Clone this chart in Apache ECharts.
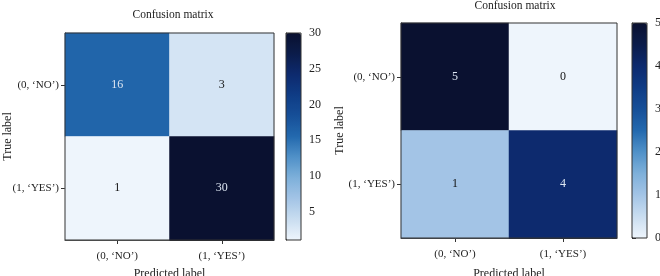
<!DOCTYPE html>
<html><head><meta charset="utf-8">
<script src="https://cdn.jsdelivr.net/npm/echarts@6/dist/echarts.min.js"></script>
<style>html,body{margin:0;padding:0;background:#fff}#c{width:660px;height:276px}</style>
</head><body><div id="c"></div>
<script>
const categories = ["(0, \u2018NO\u2019)", "(1, \u2018YES\u2019)"];
const matrixA = [[16, 3], [1, 30]];
const matrixB = [[5, 0], [1, 4]];
const rangeA = [1, 30];
const rangeB = [0, 5];
const ticksA = [5, 10, 15, 20, 25, 30];
const ticksB = [0, 1, 2, 3, 4, 5];
const titleText = "Confusion matrix";
const xName = "Predicted label";
const yName = "True label";

const palette = ['#eef5fc','#c9ddf0','#a3c4e6','#7eb0da','#5091c8','#2369ae','#164f98','#0f3c85','#0d2a6e','#0b1c4a','#0a1130'];
const FONT = 'Liberation Serif';
const txt = '#222';

function cells(m, maxV) {
  const out = [];
  m.forEach((row, r) => row.forEach((v, c) => {
    out.push({ value: [c, r, v], label: { color: v > maxV / 2 ? '#dde6f2' : '#111' } });
  }));
  return out;
}

const L = { gl: 65, gt: 33, gw: 209, gh: 207, cl: 286, cw: 15, tx: 168, ty: 4, ng: 28, yg: 51 };
const R = { gl: 401, gt: 23, gw: 216, gh: 215, cl: 632, cw: 15, tx: 510, ty: -5, ng: 30, yg: 55 };

const grids = [], xAxes = [], yAxes = [], series = [], vms = [], titles = [];
[[L, matrixA, rangeA, ticksA], [R, matrixB, rangeB, ticksB]].forEach(([g, m, rng, ticks], i) => {
  titles.push({ text: titleText, left: g.tx, top: g.ty, textAlign: 'center',
    textStyle: { fontFamily: FONT, fontSize: 11.5, fontWeight: 'normal', color: txt } });
  grids.push({ left: g.gl, top: g.gt, width: g.gw, height: g.gh, show: true, z: 10,
    containLabel: false, outerBoundsMode: 'none',
    borderColor: '#333', borderWidth: 1, backgroundColor: 'transparent' });
  grids.push({ left: g.cl, top: g.gt, width: g.cw, height: g.gh, show: true, z: 10,
    containLabel: false, outerBoundsMode: 'none',
    borderColor: '#333', borderWidth: 1, backgroundColor: 'transparent' });
  const gi = i * 2;
  xAxes.push({ type: 'category', gridIndex: gi, data: categories,
    name: xName, nameLocation: 'middle', nameGap: g.ng, nameMoveOverlap: false,
    nameTextStyle: { fontFamily: FONT, fontSize: 12, color: txt },
    axisLine: { show: true, lineStyle: { color: '#333' } }, splitLine: { show: false },
    axisTick: { show: true, alignWithLabel: true, length: 4, lineStyle: { color: '#333' } },
    axisLabel: { fontFamily: FONT, fontSize: 11, color: txt, margin: 11 } });
  yAxes.push({ type: 'category', gridIndex: gi, data: categories, inverse: true,
    name: yName, nameLocation: 'middle', nameGap: g.yg, nameRotate: 90, nameMoveOverlap: false,
    nameTextStyle: { fontFamily: FONT, fontSize: 12, color: txt },
    axisLine: { show: true, lineStyle: { color: '#333' } }, splitLine: { show: false },
    axisTick: { show: true, alignWithLabel: true, length: 4, lineStyle: { color: '#333' } },
    axisLabel: { fontFamily: FONT, fontSize: 11, color: txt, margin: 6 } });
  xAxes.push({ type: 'value', gridIndex: gi + 1, show: false, min: 0, max: 1 });
  yAxes.push({ type: 'value', gridIndex: gi + 1, position: 'right', min: rng[0], max: rng[1],
    axisLine: { show: true, lineStyle: { color: '#333' } }, splitLine: { show: false },
    axisTick: { show: true, length: 4, customValues: ticks, lineStyle: { color: '#333' } },
    axisLabel: { customValues: ticks, fontFamily: FONT, fontSize: 12, color: txt, margin: 8 } });
  series.push({ type: 'heatmap', xAxisIndex: gi, yAxisIndex: gi, data: cells(m, rng[1]),
    label: { show: true, fontFamily: FONT, fontSize: 12 },
    itemStyle: { borderWidth: 0 }, emphasis: { disabled: true } });
  vms.push({ type: 'continuous', seriesIndex: i, min: rng[0], max: rng[1], calculable: false,
    left: g.cl, top: g.gt, itemWidth: g.cw, itemHeight: g.gh, padding: 0, text: null,
    showLabel: false, inRange: { color: palette }, hoverLink: false });
});

const chart = echarts.init(document.getElementById('c'), null, { renderer: 'canvas' });
chart.setOption({
  animation: false,
  title: titles, grid: grids, xAxis: xAxes, yAxis: yAxes, visualMap: vms, series: series,
  textStyle: { fontFamily: FONT }
});
</script></body></html>
